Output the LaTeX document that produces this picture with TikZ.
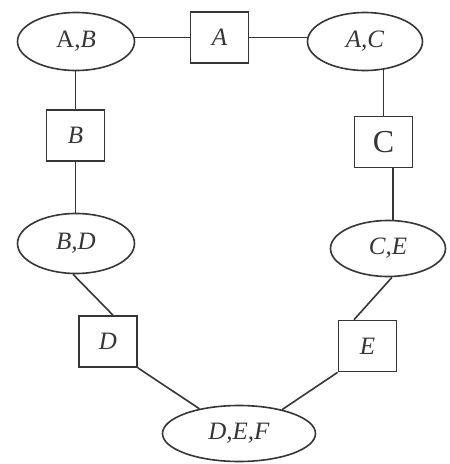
\documentclass[tikz,border=0pt]{standalone}
\usepackage{fontspec}
\setmainfont{Liberation Serif}
\usetikzlibrary{shapes.geometric}
\pgfdeclarelayer{background}
\pgfsetlayers{background,main}
\definecolor{ink}{HTML}{363636}
\tikzset{
  every node/.style={draw=ink, text=ink, line width=1.6pt, fill=white, inner sep=0pt, font=\fontsize{25}{28}\selectfont},
  oval/.style={ellipse},
  sep/.style={rectangle, minimum width=58pt, minimum height=51pt},
  conn/.style={draw=ink, line width=1.6pt}
}
\begin{document}
\begin{tikzpicture}[x=1pt,y=-1pt]
\useasboundingbox (0,0) rectangle (450,464);
% cliques
\node[oval, minimum width=117pt, minimum height=58pt] (AB) at (76,41.5) {A,\textit{B}};
\node[oval, minimum width=115pt, minimum height=58pt] (AC) at (365,41.5) {\textit{A,C}};
\node[oval, minimum width=117pt, minimum height=60pt] (BD) at (76,243.5) {\textit{B,D}};
\node[oval, minimum width=115pt, minimum height=56pt] (CE) at (388,248.5) {\textit{C,E}};
\node[oval, minimum width=153pt, minimum height=56pt] (DEF) at (239,433.5) {\textit{D,E,F}};
% separators
\node[sep] (A) at (219.5,37.5) {\textit{A}};
\node[sep] (B) at (75.5,135.5) {\textit{B}};
\node[sep, font=\fontsize{32}{36}\selectfont] (C) at (383.5,142) {C};
\node[sep] (D) at (108,341.5) {\textit{D}};
\node[sep] (E) at (367.5,346) {\textit{E}};
% connectors
\begin{pgfonlayer}{background}
\draw[conn] (A.west) -- (A.west -| AB.center);
\draw[conn] (A.east) -- (A.east -| AC.center);
\draw[conn] (B.north) -- (B.north |- AB.center);
\draw[conn] (B.south) -- (B.south |- BD.center);
\draw[conn] (C.north) -- (C.north |- AC.center);
\draw[conn] ([xshift=9.5pt]C.south) -- ([xshift=9.5pt]C.south |- CE.center);
\draw[conn] ([xshift=5pt]D.north) -- ([xshift=-3pt]BD.south);
\draw[conn] ([xshift=-13.5pt]E.north) -- ([xshift=4pt]CE.south);
\draw[conn] (D.south east) -- (DEF.148);
\draw[conn] (E.south west) -- (DEF.29);
\end{pgfonlayer}
\end{tikzpicture}
\end{document}
